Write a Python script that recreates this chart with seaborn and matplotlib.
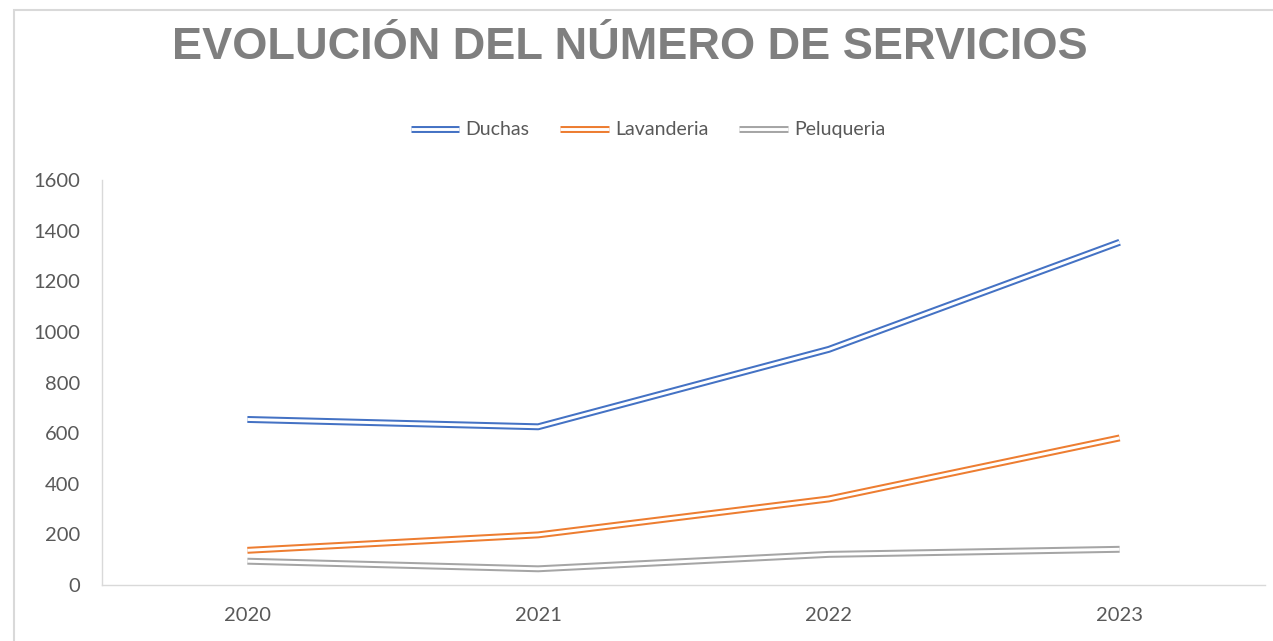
import matplotlib
matplotlib.use("Agg")
import matplotlib.pyplot as plt
import matplotlib.patheffects as pe
from matplotlib.patches import Rectangle
import seaborn as sns

# datos
anios = [2020, 2021, 2022, 2023]
duchas = [654, 625, 931, 1354]
lavanderia = [137, 198, 340, 581]
peluqueria = [94, 64, 121, 141]

series = {"Duchas": duchas, "Lavanderia": lavanderia, "Peluqueria": peluqueria}
colores = {"Duchas": "#4472C4", "Lavanderia": "#ED7D31", "Peluqueria": "#A5A5A5"}

sns.set_theme(style="white")
plt.rcParams['font.family'] = ['Lato', 'DejaVu Sans']

fig = plt.figure(figsize=(12.73, 6.41), dpi=100)
ax = fig.add_axes([102 / 1273, 1 - 585 / 641, 1163 / 1273, 405 / 641])

# linea doble: trazo de color ancho con linea blanca encima
for nombre, valores in series.items():
    sns.lineplot(x=anios, y=valores, ax=ax, color="white", linewidth=2.1,
                 label=nombre, solid_capstyle='butt',
                 path_effects=[pe.Stroke(linewidth=5.0, foreground=colores[nombre],
                                         capstyle='butt'),
                               pe.Normal()])

ax.set_xlim(2019.5, 2023.5)
ax.set_ylim(0, 1600)
ax.set_xticks(anios)
ax.set_xticklabels([str(a) for a in anios])
ax.set_yticks(range(0, 1601, 200))
ax.tick_params(axis='both', length=0, labelsize=14.5, colors='#595959')
ax.tick_params(axis='y', pad=16)
ax.tick_params(axis='x', pad=16)

for lado in ['top', 'right']:
    ax.spines[lado].set_visible(False)
for lado in ['left', 'bottom']:
    ax.spines[lado].set_color('#d9d9d9')
    ax.spines[lado].set_linewidth(1.0)

ax.get_legend().remove()
handles, labels = ax.get_legend_handles_labels()
fig.legend(handles, labels, loc='center', bbox_to_anchor=(0.509, 1 - 130 / 641),
           ncol=3, frameon=False, fontsize=14, handlelength=2.5,
           handletextpad=0.3, columnspacing=1.6, labelcolor='#595959')

fig.text(0.495, 1 - 59 / 641, "EVOLUCIÓN DEL NÚMERO DE SERVICIOS",
         ha='center', va='baseline', fontsize=32.5, fontweight='bold',
         color='#7f7f7f', family=['Liberation Sans', 'DejaVu Sans'])

# marco del grafico
fig.patches.append(Rectangle((14 / 1273, -0.1), 1.2, 1.1 - 10 / 641,
                             transform=fig.transFigure, fill=False,
                             edgecolor='#d9d9d9', linewidth=1.5))

fig.savefig("out.png", dpi=100)
